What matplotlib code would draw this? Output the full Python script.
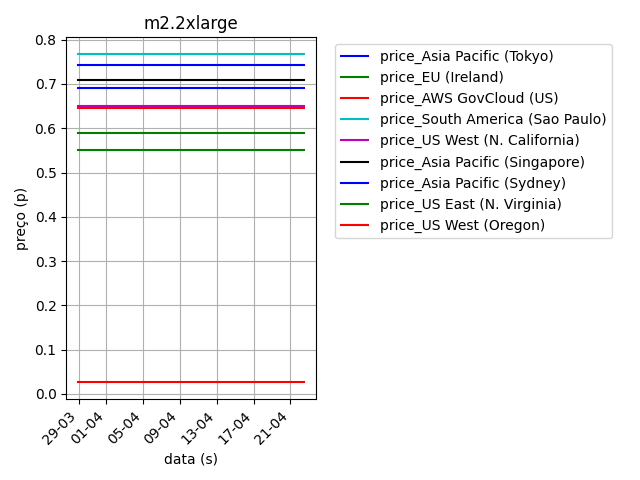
import pandas as pd
import numpy as np
import matplotlib
matplotlib.use("Agg")
import matplotlib.pyplot as plt
import matplotlib.dates as mdates

# dates (start / end of the period)
dates = pd.to_datetime(["2014-03-28 21:30", "2014-04-22 12:30"])

# regions and prices
regions = ["Asia Pacific (Tokyo)", "EU (Ireland)", "AWS GovCloud (US)",
           "South America (Sao Paulo)", "US West (N. California)",
           "Asia Pacific (Singapore)", "Asia Pacific (Sydney)",
           "US East (N. Virginia)", "US West (Oregon)"]
prices = [0.742, 0.59, 0.026, 0.768, 0.65, 0.71, 0.692, 0.552, 0.645]
colors = ["b", "g", "r", "c", "m", "k", "b", "g", "r"]

fig = plt.figure(figsize=(6.4, 4.8), dpi=100)
ax = fig.add_axes([0.1036, 0.169, 0.3897, 0.753])

for reg, p, c in zip(regions, prices, colors):
    ax.plot(dates, [p, p], color=c, label="price_" + reg)

ax.set_title("m2.2xlarge")
ax.set_xlabel("data (s)")
ax.set_ylabel("preço (p)")
ax.grid(True)
ax.xaxis.set_major_locator(mdates.DayLocator(bymonthday=range(1, 32, 4)))
ax.xaxis.set_major_formatter(mdates.DateFormatter("%d-%m"))
plt.setp(ax.get_xticklabels(), rotation=45, ha="right")
ax.legend(loc="upper left", bbox_to_anchor=(1.05, 1.0))

plt.savefig("out.png")
